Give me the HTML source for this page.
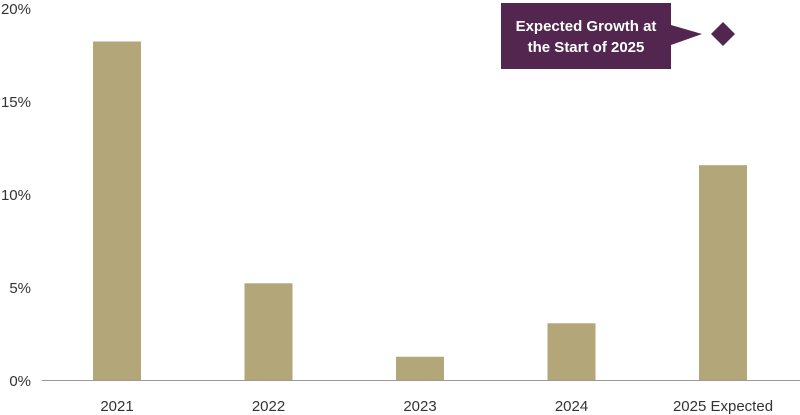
<!DOCTYPE html>
<html><head><meta charset="utf-8"><style>
body{margin:0;background:#fff;}
svg{display:block;font-family:"Liberation Sans",sans-serif;}
</style></head><body>
<svg id="chart" width="800" height="415"></svg>
<script>
const categories=["2021","2022","2023","2024","2025 Expected"];
const values=[18.2,5.2,1.25,3.05,11.55];
const ticks=[0,5,10,15,20];
const expectedValue=18.6;
const NS="http://www.w3.org/2000/svg";
const svg=document.getElementById('chart');
function y(v){return 380-v*18.6;}
function x(i){return 117+i*151.5;}
function mk(tag,attrs,parent){const e=document.createElementNS(NS,tag);for(const k in attrs)e.setAttribute(k,attrs[k]);(parent||svg).appendChild(e);return e;}
ticks.forEach(t=>{
  const l=mk('text',{x:31,y:y(t)+6,'text-anchor':'end','font-size':15,fill:'#333'});
  l.textContent=t+'%';
  
  
});
values.forEach((v,i)=>{
  const r=mk('rect',{x:x(i)-24,y:y(v),width:48,height:380-y(v),fill:'#b3a77a'});
  
  
  const l=mk('text',{x:x(i),y:411,'text-anchor':'middle','font-size':15,fill:'#333'});
  l.textContent=categories[i];
  
  
});
const ax=mk('line',{x1:42,x2:800,y1:380.5,y2:380.5,stroke:'#999','stroke-width':1});


const dy=y(expectedValue), dx=x(4);
const d=mk('polygon',{points:`${dx},${dy-12} ${dx+12},${dy} ${dx},${dy+12} ${dx-12},${dy}`,fill:'#52264f'});


const g=mk('g',{});


mk('polygon',{points:`501,3 671,3 671,25 702,${dy} 671,45 671,69 501,69`,fill:'#52264f'},g);
const t1=mk('text',{x:586,y:31,'text-anchor':'middle','font-size':15,'font-weight':'bold',fill:'#fff'},g);
t1.textContent='Expected Growth at';
const t2=mk('text',{x:586,y:52,'text-anchor':'middle','font-size':15,'font-weight':'bold',fill:'#fff'},g);
t2.textContent='the Start of 2025';
</script>
</body></html>
